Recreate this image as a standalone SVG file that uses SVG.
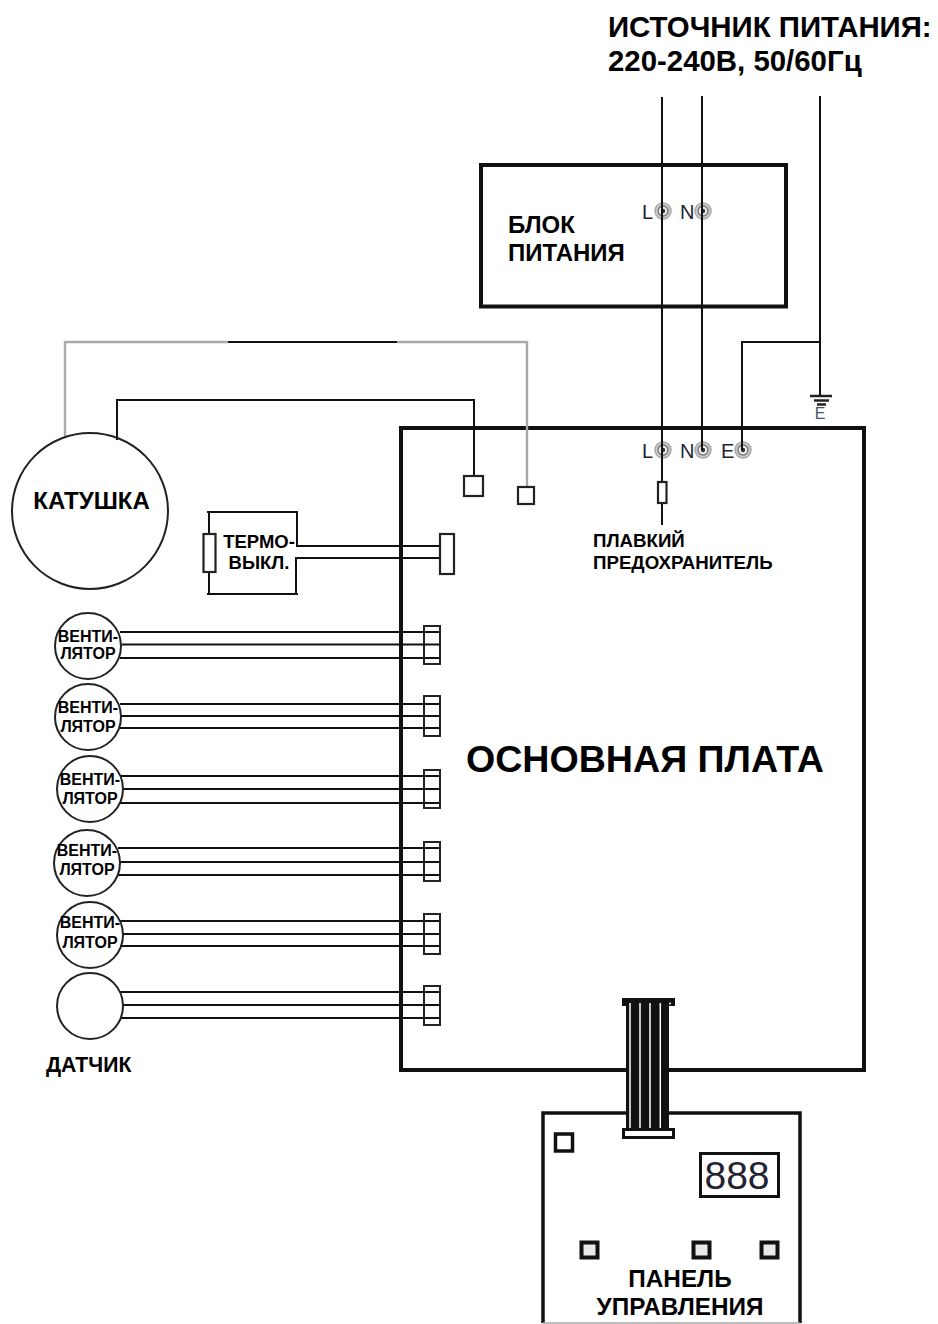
<svg xmlns="http://www.w3.org/2000/svg" width="938" height="1324" viewBox="0 0 938 1324">
<defs>
<style>
text{font-family:"Liberation Sans",Arial,sans-serif;font-weight:bold;fill:#000}
.w{fill:none;stroke:#111;stroke-width:2}
.g{fill:none;stroke:#a8a8a8;stroke-width:2.4}
.c{fill:#fff;stroke:#222;stroke-width:2.2}
.o{fill:none;stroke:#222;stroke-width:2}
.s{fill:none;stroke:#222;stroke-width:2.4}
.t{font-size:20px;font-weight:normal;fill:#223}
.f{font-size:16px;text-anchor:middle}
.btn{fill:#e8e8e8;stroke:#111;stroke-width:4}
</style>
<g id="term"><circle r="8" fill="#ccc" stroke="#aaa" stroke-width="1.5"/><circle r="5" fill="#eee" stroke="#777" stroke-width="1.4"/><circle r="2.2" fill="#333"/></g>
</defs>
<rect width="938" height="1324" fill="#fff"/>

<g id="source"><text x="608" y="37" font-size="29.400">ИСТОЧНИК ПИТАНИЯ:</text><text x="608" y="71" font-size="29.400">220-240В, 50/60Гц</text></g>

<g id="psu"><rect x="481" y="165" width="305" height="141.500" fill="#fff" stroke="#111" stroke-width="4"/>
<text x="508" y="233" font-size="24">БЛОК</text><text x="508" y="261" font-size="24">ПИТАНИЯ</text>
<text x="642" y="219" class="t">L</text><use href="#term" x="663" y="211"/><text x="680" y="219" class="t">N</text><use href="#term" x="703" y="211"/></g>

<g id="mainboard"><rect x="401" y="428" width="463" height="642" fill="#fff" stroke="#111" stroke-width="4"/>
<text x="466" y="772" font-size="37.600">ОСНОВНАЯ ПЛАТА</text>
<text x="642" y="458" class="t">L</text><use href="#term" x="663" y="450"/><text x="680" y="458" class="t">N</text><use href="#term" x="703" y="450"/><text x="721" y="458" class="t">E</text><use href="#term" x="743" y="450"/></g>

<g id="connectors">
<path class="w" d="M662 97V525M702 96V450M820 96V396M820 342H742V450"/>
<path class="s" d="M810 396H832M814 400.500H829M817 404.500H826"/>
<path class="g" d="M65 438V342H228M397 342H527V487"/>
<path class="w" d="M228 342H397"/>
<path class="w" d="M117 440V400H474V476"/>
<path class="w" d="M209 512V534M209 572V594M207 512H298M207 594H298M297 512V546H440M296 594V558H440"/>
<path class="w" d="M120 632H440M122 644.500H440M120 658H440"/>
<path class="w" d="M120 704H440M121 716H440M120 728H440"/>
<path class="w" d="M120 776H440M122 789H440M120 803H440"/>
<path class="w" d="M118 848H440M120 862H440M118 875H440"/>
<path class="w" d="M120 921H440M123 934H440M120 946H440"/>
<path class="w" d="M120 992H440M123 1005H440M120 1018H440"/>
</g>

<g id="earth"><text x="820" y="419" font-size="16" text-anchor="middle" style="font-weight:normal;fill:#456">E</text></g>

<g id="coil"><circle cx="90" cy="511" r="78" class="o"/><text x="91.500" y="509" font-size="24" text-anchor="middle">КАТУШКА</text></g>
<g id="terminal-a"><rect x="464" y="476" width="19" height="20" class="c"/></g>
<g id="terminal-b"><rect x="518" y="487" width="16" height="17" class="c"/></g>
<g id="fuse"><rect x="658" y="482" width="8.500" height="21" class="c"/><text x="593" y="547" font-size="18.700">ПЛАВКИЙ</text><text x="593" y="569" font-size="18.700">ПРЕДОХРАНИТЕЛЬ</text></g>
<g id="thermostat"><rect x="203.500" y="534" width="12" height="38" class="c"/><text x="259" y="548" font-size="18.500" text-anchor="middle">ТЕРМО-</text><text x="259" y="569" font-size="18.500" text-anchor="middle">ВЫКЛ.</text><rect x="440" y="534" width="14" height="40" class="c"/></g>

<g id="fan-1"><circle cx="88" cy="646" r="33" class="o"/><text x="88" y="642" class="f">ВЕНТИ-</text><text x="88" y="659" class="f">ЛЯТОР</text><rect x="424" y="626" width="16" height="38" class="o"/></g>
<g id="fan-2"><circle cx="88" cy="717" r="33" class="o"/><text x="88" y="713" class="f">ВЕНТИ-</text><text x="88" y="732" class="f">ЛЯТОР</text><rect x="424" y="696" width="16" height="40" class="o"/></g>
<g id="fan-3"><circle cx="90" cy="789" r="33" class="o"/><text x="90" y="785" class="f">ВЕНТИ-</text><text x="90" y="804" class="f">ЛЯТОР</text><rect x="424" y="770" width="16" height="38" class="o"/></g>
<g id="fan-4"><circle cx="87" cy="863" r="33" class="o"/><text x="87" y="856" class="f">ВЕНТИ-</text><text x="87" y="875" class="f">ЛЯТОР</text><rect x="424" y="842" width="16" height="39" class="o"/></g>
<g id="fan-5"><circle cx="90" cy="935" r="33" class="o"/><text x="90" y="928" class="f">ВЕНТИ-</text><text x="90" y="948" class="f">ЛЯТОР</text><rect x="424" y="914" width="16" height="40" class="o"/></g>
<g id="sensor"><circle cx="90" cy="1006" r="33" class="o"/><rect x="424" y="986" width="16" height="39" class="o"/><text x="46" y="1072" font-size="21.200">ДАТЧИК</text></g>

<g id="panel"><path d="M543 1323V1113H800V1323" fill="#fff" stroke="#111" stroke-width="3.500"/><path d="M543 1323H800" fill="none" stroke="#aaa" stroke-width="1.500"/>
<rect x="555.500" y="1134" width="17" height="17" fill="#fff" stroke="#111" stroke-width="3.500"/>
<rect x="700.500" y="1153.500" width="78" height="43" fill="#fff" stroke="#111" stroke-width="3"/>
<text x="737" y="1189" font-size="39" text-anchor="middle" style="font-weight:normal;fill:#223">888</text>
<rect x="581.500" y="1242.500" width="16" height="15" class="btn"/><rect x="693.500" y="1242.500" width="16" height="15" class="btn"/><rect x="761.500" y="1242.500" width="16" height="15" class="btn"/>
<text x="680" y="1287" font-size="24.300" text-anchor="middle">ПАНЕЛЬ</text><text x="680" y="1315" font-size="24.300" text-anchor="middle">УПРАВЛЕНИЯ</text></g>

<g id="ribbon"><rect x="622" y="998" width="53" height="8" fill="#111"/><rect x="626" y="1006" width="43" height="123" fill="#111"/>
<path d="M630 1003V1128M640 1003V1128M650 1003V1128M660.300 1003V1128" stroke="#fff" stroke-width="1.500" fill="none"/>
<path d="M670 1002.500V1004.500" stroke="#fff" stroke-width="1.500" fill="none"/>
<rect x="623.500" y="1129.500" width="50" height="8" fill="#fff" stroke="#111" stroke-width="3"/></g>
</svg>
